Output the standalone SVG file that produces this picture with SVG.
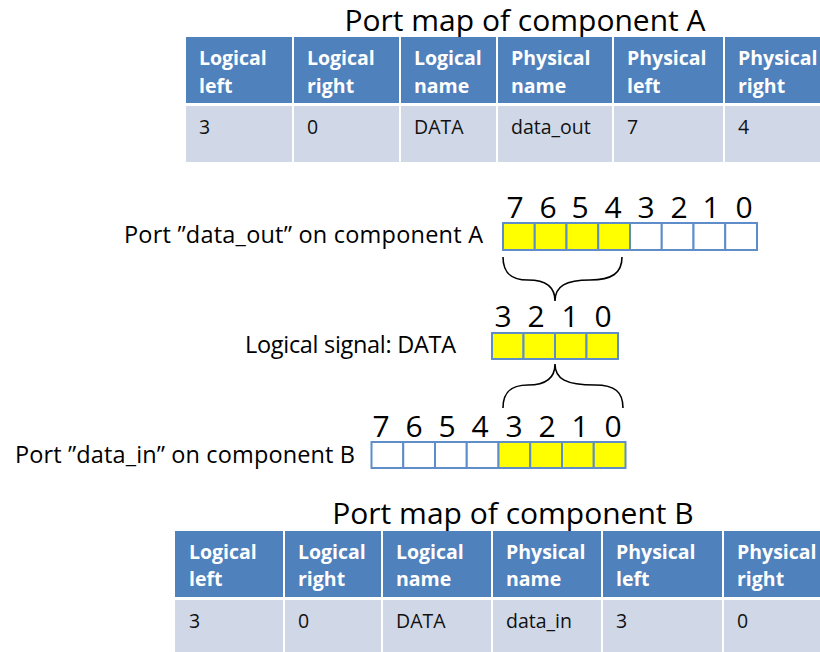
<svg xmlns="http://www.w3.org/2000/svg" width="820" height="652" viewBox="0 0 820 652">
  <style>
    .title { font-family: "Open Sans", "Liberation Sans", sans-serif; font-size: 30px; fill: #000; }
    .label { font-family: "Open Sans", "Liberation Sans", sans-serif; font-size: 23.5px; fill: #000; }
    .digit { font-family: "Open Sans", "Liberation Sans", sans-serif; font-size: 30px; fill: #000; text-anchor: middle; }
    .hd { fill: #4F81BD; }
    .dt { fill: #D0D8E8; }
    .hdtext { font-family: "Open Sans", "Liberation Sans", sans-serif; font-size: 19.5px; font-weight: bold; fill: #fff; }
    .dttext { font-family: "Open Sans", "Liberation Sans", sans-serif; font-size: 19.5px; fill: #111; }
    .bit { stroke: #5F8DC9; stroke-width: 2; }
    .on { fill: #FFFF00; }
    .off { fill: #FFFFFF; }
    .brace { fill: none; stroke: #000; stroke-width: 1.6; }
  </style>
  <rect width="820" height="652" fill="#fff"/>

  <!-- Port map table for component A -->
  <g id="portmap-a">
    <text class="title" x="525" y="31" text-anchor="middle">Port map of component A</text>
    <rect class="hd" x="186" y="37" width="106" height="66"/>
    <rect class="hd" x="294" y="37" width="105" height="66"/>
    <rect class="hd" x="401" y="37" width="95" height="66"/>
    <rect class="hd" x="498" y="37" width="114" height="66"/>
    <rect class="hd" x="614" y="37" width="109" height="66"/>
    <rect class="hd" x="725" y="37" width="95" height="66"/>
    <rect class="dt" x="186" y="106" width="106" height="56"/>
    <rect class="dt" x="294" y="106" width="105" height="56"/>
    <rect class="dt" x="401" y="106" width="95" height="56"/>
    <rect class="dt" x="498" y="106" width="114" height="56"/>
    <rect class="dt" x="614" y="106" width="109" height="56"/>
    <rect class="dt" x="725" y="106" width="95" height="56"/>
    <text class="hdtext" x="199" y="65">Logical</text>
    <text class="hdtext" x="199" y="93">left</text>
    <text class="hdtext" x="307" y="65">Logical</text>
    <text class="hdtext" x="307" y="93">right</text>
    <text class="hdtext" x="414" y="65">Logical</text>
    <text class="hdtext" x="414" y="93">name</text>
    <text class="hdtext" x="511" y="65">Physical</text>
    <text class="hdtext" x="511" y="93">name</text>
    <text class="hdtext" x="627" y="65">Physical</text>
    <text class="hdtext" x="627" y="93">left</text>
    <text class="hdtext" x="738" y="65">Physical</text>
    <text class="hdtext" x="738" y="93">right</text>
    <text class="dttext" x="199" y="134">3</text>
    <text class="dttext" x="307" y="134">0</text>
    <text class="dttext" x="414" y="134">DATA</text>
    <text class="dttext" x="511" y="134">data_out</text>
    <text class="dttext" x="627" y="134">7</text>
    <text class="dttext" x="738" y="134">4</text>
  </g>

  <!-- Port data_out, 8 bits, bits 7..4 used -->
  <g id="port-data-out">
    <text class="label" x="124" y="243" textLength="359" lengthAdjust="spacing">Port ”data_out” on component A</text>
    <text class="digit" x="515" y="218">7</text>
    <text class="digit" x="548" y="218">6</text>
    <text class="digit" x="580" y="218">5</text>
    <text class="digit" x="613" y="218">4</text>
    <text class="digit" x="646" y="218">3</text>
    <text class="digit" x="679" y="218">2</text>
    <text class="digit" x="711" y="218">1</text>
    <text class="digit" x="744" y="218">0</text>
    <rect class="bit on" x="503" y="223" width="31.75" height="27"/>
    <rect class="bit on" x="534.75" y="223" width="31.75" height="27"/>
    <rect class="bit on" x="566.5" y="223" width="31.75" height="27"/>
    <rect class="bit on" x="598.25" y="223" width="31.75" height="27"/>
    <rect class="bit off" x="630" y="223" width="31.75" height="27"/>
    <rect class="bit off" x="661.75" y="223" width="31.75" height="27"/>
    <rect class="bit off" x="693.5" y="223" width="31.75" height="27"/>
    <rect class="bit off" x="725.25" y="223" width="31.75" height="27"/>
  </g>

  <!-- Logical signal DATA, 4 bits -->
  <g id="signal-data">
    <text class="label" x="245" y="353" textLength="211" lengthAdjust="spacing">Logical signal: DATA</text>
    <text class="digit" x="503" y="327">3</text>
    <text class="digit" x="536" y="327">2</text>
    <text class="digit" x="570" y="327">1</text>
    <text class="digit" x="603" y="327">0</text>
    <rect class="bit on" x="492" y="333" width="31.5" height="26"/>
    <rect class="bit on" x="523.5" y="333" width="31.5" height="26"/>
    <rect class="bit on" x="555" y="333" width="31.5" height="26"/>
    <rect class="bit on" x="586.5" y="333" width="31.5" height="26"/>
  </g>

  <!-- Port data_in, 8 bits, bits 3..0 used -->
  <g id="port-data-in">
    <text class="label" x="15" y="463" textLength="340" lengthAdjust="spacing">Port ”data_in” on component B</text>
    <text class="digit" x="381" y="437">7</text>
    <text class="digit" x="414" y="437">6</text>
    <text class="digit" x="447" y="437">5</text>
    <text class="digit" x="480" y="437">4</text>
    <text class="digit" x="514" y="437">3</text>
    <text class="digit" x="547" y="437">2</text>
    <text class="digit" x="580" y="437">1</text>
    <text class="digit" x="613" y="437">0</text>
    <rect class="bit off" x="371.5" y="442" width="31.75" height="26"/>
    <rect class="bit off" x="403.25" y="442" width="31.75" height="26"/>
    <rect class="bit off" x="435" y="442" width="31.75" height="26"/>
    <rect class="bit off" x="466.75" y="442" width="31.75" height="26"/>
    <rect class="bit on" x="498.5" y="442" width="31.75" height="26"/>
    <rect class="bit on" x="530.25" y="442" width="31.75" height="26"/>
    <rect class="bit on" x="562" y="442" width="31.75" height="26"/>
    <rect class="bit on" x="593.75" y="442" width="31.75" height="26"/>
  </g>

  <!-- Braces linking the bit ranges -->
  <g id="connectors">
    <path class="brace" d="M503,257 C503,273 511,280 528,280 C545,280 555,286 555,301 C555,286 566,280 590,280 C612,280 622,273 622,257"/>
    <path class="brace" d="M503,408 C503,392 511,385 528,385 C545,385 555,379 555,364 C555,379 566,385 595,385 C615,385 623,392 623,408"/>
  </g>

  <!-- Port map table for component B -->
  <g id="portmap-b">
    <text class="title" x="513" y="524" text-anchor="middle">Port map of component B</text>
    <rect class="hd" x="175" y="531" width="108" height="66"/>
    <rect class="hd" x="285" y="531" width="96" height="66"/>
    <rect class="hd" x="383" y="531" width="108" height="66"/>
    <rect class="hd" x="493" y="531" width="108" height="66"/>
    <rect class="hd" x="603" y="531" width="119" height="66"/>
    <rect class="hd" x="724" y="531" width="96" height="66"/>
    <rect class="dt" x="175" y="600" width="108" height="52"/>
    <rect class="dt" x="285" y="600" width="96" height="52"/>
    <rect class="dt" x="383" y="600" width="108" height="52"/>
    <rect class="dt" x="493" y="600" width="108" height="52"/>
    <rect class="dt" x="603" y="600" width="119" height="52"/>
    <rect class="dt" x="724" y="600" width="96" height="52"/>
    <text class="hdtext" x="189" y="559">Logical</text>
    <text class="hdtext" x="189" y="586">left</text>
    <text class="hdtext" x="298" y="559">Logical</text>
    <text class="hdtext" x="298" y="586">right</text>
    <text class="hdtext" x="396" y="559">Logical</text>
    <text class="hdtext" x="396" y="586">name</text>
    <text class="hdtext" x="506" y="559">Physical</text>
    <text class="hdtext" x="506" y="586">name</text>
    <text class="hdtext" x="616" y="559">Physical</text>
    <text class="hdtext" x="616" y="586">left</text>
    <text class="hdtext" x="737" y="559">Physical</text>
    <text class="hdtext" x="737" y="586">right</text>
    <text class="dttext" x="189" y="628">3</text>
    <text class="dttext" x="298" y="628">0</text>
    <text class="dttext" x="396" y="628">DATA</text>
    <text class="dttext" x="506" y="628">data_in</text>
    <text class="dttext" x="616" y="628">3</text>
    <text class="dttext" x="737" y="628">0</text>
  </g>
</svg>
